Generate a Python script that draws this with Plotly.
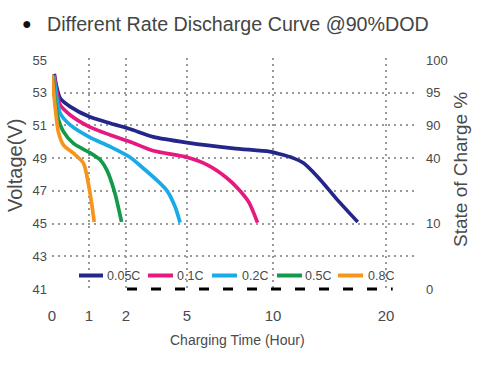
import numpy as np
import plotly.graph_objects as go

# ---- data (hours, volts) ----
series_names = ["0.05C", "0.1C", "0.2C", "0.5C", "0.8C"]
series_colors = ["#25268a", "#e6197f", "#19aae8", "#12994a", "#f7941d"]

hours_005 = [0.06, 0.12, 0.22, 0.49, 1.0, 1.57, 2.2, 3.34, 5.0, 7.7, 9.8, 10.6, 11.8, 12.7, 14.2, 15.7, 17.5]
volts_005 = [54.15, 53.4, 52.66, 52.15, 51.54, 51.13, 50.78, 50.3, 49.95, 49.6, 49.4, 49.25, 49.0, 48.7, 47.67, 46.45, 45.1]

hours_01 = [0.06, 0.12, 0.22, 0.49, 1.0, 1.57, 2.2, 3.34, 5.0, 6.15, 7.3, 8.0, 8.6, 9.1]
volts_01 = [54.1, 53.2, 52.25, 51.64, 50.93, 50.42, 50.0, 49.45, 49.05, 48.6, 47.8, 47.1, 46.3, 45.06]

hours_02 = [0.05, 0.12, 0.22, 0.49, 1.0, 1.57, 2.2, 2.69, 3.5, 4.02, 4.41, 4.66]
volts_02 = [54.0, 52.8, 51.74, 51.03, 50.3, 49.7, 49.05, 48.55, 47.67, 47.0, 46.04, 45.06]

hours_05 = [0.03, 0.07, 0.14, 0.31, 0.58, 1.0, 1.3, 1.48, 1.7, 1.88]
volts_05 = [53.9, 52.8, 51.64, 50.62, 49.9, 49.36, 48.9, 48.28, 46.86, 45.1]

hours_08 = [0.0, 0.04, 0.08, 0.17, 0.31, 0.58, 0.85, 0.98, 1.07, 1.14]
volts_08 = [54.1, 53.2, 52.25, 50.62, 49.8, 49.3, 48.7, 47.47, 46.25, 45.1]

x_tick_hours = [0, 1, 2, 5, 10, 20]
x_grid_hours = [1, 2, 5, 10, 20]
y_tick_volts = [55, 53, 51, 49, 47, 45, 43, 41]
y_grid_volts = [43, 45, 47, 49, 51, 53]
soc_tick_volts = [55, 53, 51, 49, 45, 41]
soc_tick_text = ["100", "95", "90", "40", "10", "0"]
dash_hours = [2.05, 20.6]
dash_level = 41

# ---- non-uniform time scale of the original chart (hours -> axis units) ----
scale_hours = [0, 1, 2, 5, 10, 20, 22.6]
scale_units = [0, 37, 74, 135, 221, 334, 363]


def xmap(h):
    return np.interp(np.asarray(h, dtype=float), scale_hours, scale_units)


all_hours = [hours_005, hours_01, hours_02, hours_05, hours_08]
all_volts = [volts_005, volts_01, volts_02, volts_05, volts_08]

fig = go.Figure()
for name, col, hs, vs in zip(series_names, series_colors, all_hours, all_volts):
    fig.add_trace(go.Scatter(
        x=xmap(hs), y=vs, mode="lines", name=name, showlegend=False,
        line=dict(color=col, width=3.7, shape="spline", smoothing=0.7),
    ))

# invisible trace to carry right axis
fig.add_trace(go.Scatter(x=[0], y=[50], yaxis="y2", mode="markers",
                         marker=dict(opacity=0), showlegend=False, hoverinfo="skip"))

FONT = "Liberation Sans, Arial, sans-serif"
TXT = "#4a4a4a"

# page geometry (pixels) for plot area
W, H = 500, 365
ML, MR, MT, MB = 52, 85, 58, 74
pl, pr, pt, pb = ML, W - MR, MT, H - MB


def px2paper_x(px):
    return (px - pl) / (pr - pl)


def px2paper_y(py):
    return (pb - py) / (pb - pt)


fig.add_shape(type="line", x0=float(xmap(dash_hours[0])), x1=float(xmap(dash_hours[1])),
              y0=dash_level, y1=dash_level, xref="x", yref="y",
              line=dict(color="black", width=3, dash="10px,14px"), layer="above")

# custom legend (line sample + label), laid out like the original
legend_line_px = [(79, 103), (148, 173), (212, 237), (277, 302), (338, 363)]
legend_text_px = [105, 175, 240, 303, 366]
legend_y_px = 275.5
annotations = []
for (x0, x1), tx, name, col in zip(legend_line_px, legend_text_px, series_names, series_colors):
    fig.add_shape(type="line", xref="paper", yref="paper",
                  x0=px2paper_x(x0), x1=px2paper_x(x1),
                  y0=px2paper_y(legend_y_px), y1=px2paper_y(legend_y_px),
                  line=dict(color=col, width=4), layer="above")
    annotations.append(dict(text=name, x=px2paper_x(tx), y=px2paper_y(legend_y_px),
                            xref="paper", yref="paper", xanchor="left", yanchor="middle",
                            showarrow=False, font=dict(size=12.5, color=TXT)))

annotations += [
    dict(text="●", x=px2paper_x(27), y=px2paper_y(24), xref="paper", yref="paper",
         xanchor="center", yanchor="middle", showarrow=False, font=dict(size=16, color="#111")),
    dict(text="Different Rate Discharge Curve @90%DOD", x=px2paper_x(45), y=px2paper_y(24),
         xref="paper", yref="paper", xanchor="left", yanchor="middle", showarrow=False,
         font=dict(size=19.7, color="#444")),
    dict(text="Voltage(V)", x=px2paper_x(15), y=px2paper_y(166), xref="paper", yref="paper",
         xanchor="center", yanchor="middle", textangle=-90, showarrow=False,
         font=dict(size=20, color=TXT)),
    dict(text="State of Charge %", x=px2paper_x(460), y=px2paper_y(170), xref="paper",
         yref="paper", xanchor="center", yanchor="middle", textangle=-90, showarrow=False,
         font=dict(size=19, color=TXT)),
    dict(text="Charging Time (Hour)", x=px2paper_x(238), y=px2paper_y(340), xref="paper",
         yref="paper", xanchor="center", yanchor="middle", showarrow=False,
         font=dict(size=14, color=TXT)),
]

yr = [40.88, 55.12]
fig.update_layout(
    width=W, height=H,
    margin=dict(l=ML, r=MR, t=MT, b=MB, autoexpand=False),
    paper_bgcolor="white", plot_bgcolor="white",
    font=dict(family=FONT, color=TXT),
    showlegend=False,
    xaxis=dict(range=[0, 363], tickmode="array", tickvals=list(xmap(x_tick_hours)),
               ticktext=[str(v) for v in x_tick_hours], showgrid=False, zeroline=False,
               showline=False, ticks="", tickfont=dict(size=15, color=TXT), ticklabelstandoff=14,
               minor=dict(tickvals=list(xmap(x_grid_hours)), showgrid=True, gridcolor="#9a9a9a",
                          griddash="2px,4px", gridwidth=2, ticks="")),
    yaxis=dict(range=yr, tickmode="array", tickvals=y_tick_volts,
               ticktext=[str(v) for v in y_tick_volts], showgrid=False, zeroline=False,
               showline=False, ticks="", tickfont=dict(size=13, color=TXT), ticklabelstandoff=4,
               minor=dict(tickvals=y_grid_volts, showgrid=True, gridcolor="#9a9a9a",
                          griddash="2px,4px", gridwidth=2, ticks="")),
    yaxis2=dict(range=yr, overlaying="y", side="right", tickmode="array",
                tickvals=soc_tick_volts, ticktext=soc_tick_text, showgrid=False,
                zeroline=False, showline=False, ticks="", tickfont=dict(size=13, color=TXT),
                ticklabelstandoff=10),
    annotations=annotations,
)

fig.write_html("out.html", config={"displayModeBar": False},
               post_script="document.body.style.margin='0';")
